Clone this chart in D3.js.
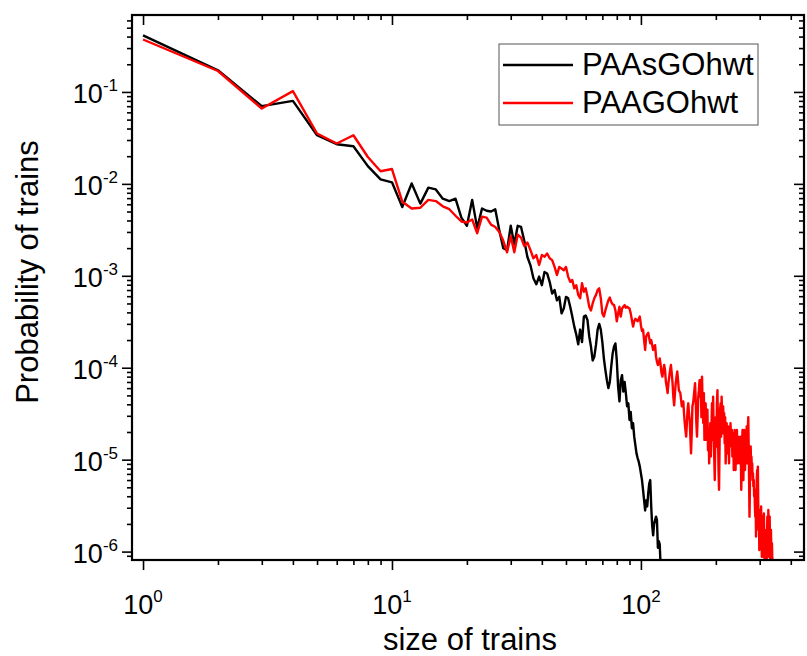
<!DOCTYPE html>
<html>
<head>
    <title>Probability of trains</title>
    <script src="https://d3js.org/d3.v7.min.js"></script>
    <style>
        body { margin: 0; background: #ffffff; }
        text { font-family: "Liberation Sans", Arial, sans-serif; fill: #000; }
    </style>
</head>
<body>
<div id="chart"></div>
<script>
// train sizes are 1, 2, 3, ... (index + 1)
// PAAsGOhwt, sizes 1..120
var blackProb = [
    0.413, 0.172, 0.070, 0.080, 0.0338, 0.0270, 0.0257, 0.0156, 0.0112, 0.0104,
    0.0056, 0.0101, 0.0061, 0.0091, 0.0087, 0.0069, 0.0065, 0.0069, 0.0043, 0.0035,
    0.0067, 0.0033, 0.0054, 0.0051, 0.0050, 0.0053, 0.0031, 0.0020, 0.0019, 0.0035,
    0.0022, 0.0035, 0.0034, 0.0024, 0.0016, 0.0013, 0.00094, 0.00081, 0.00098, 0.00079,
    0.00110, 0.00106, 0.00086, 0.00064, 0.00070, 0.00054, 0.00059, 0.00039, 0.00044, 0.00059,
    0.00057, 0.00046, 0.00036, 0.00028, 0.00023, 0.00018, 0.00026, 0.00019, 0.00036, 0.00037,
    0.00033, 0.00022, 0.00017, 0.00012, 0.000132, 0.000177, 0.00026, 0.00030, 0.00026, 0.00019,
    0.000126, 0.000094, 0.000073, 0.000060, 0.000070, 0.000103, 0.000143, 0.00017, 0.000184, 0.00012,
    0.000062, 0.000043, 0.000073, 0.000083, 0.000055, 0.000070, 0.000053, 0.000038, 0.000041, 0.000027,
    0.000033, 0.000022, 0.000025, 1.78e-5, 1.44e-5, 1.17e-5, 1.04e-5, 9.5e-6, 8.4e-6, 7.1e-6,
    6.0e-6, 4.7e-6, 3.6e-6, 2.8e-6, 3.6e-6, 3.1e-6, 4.3e-6, 5.5e-6, 6.0e-6, 3.1e-6,
    1.9e-6, 1.5e-6, 2.0e-6, 2.2e-6, 2.4e-6, 2.2e-6, 1.1e-6, 1.3e-6, 1.2e-6, 6.9e-7
];

// PAAGOhwt, sizes 1..339
var redProb = [
    0.372, 0.169, 0.066, 0.102, 0.0353, 0.0275, 0.0338, 0.0196, 0.0137, 0.0145,
    0.0064, 0.0054, 0.0055, 0.0067, 0.0065, 0.0057, 0.0053, 0.0045, 0.0039, 0.0038,
    0.0041, 0.0029, 0.0044, 0.0043, 0.0036, 0.0034, 0.0030, 0.0024, 0.0018, 0.0027,
    0.0018, 0.0028, 0.0026, 0.0021, 0.0023, 0.0019, 0.00155, 0.00168, 0.00131, 0.00168,
    0.00161, 0.00175, 0.00155, 0.00148, 0.00125, 0.00102, 0.00125, 0.00120, 0.00115, 0.00125,
    0.00098, 0.00086, 0.00090, 0.00073, 0.00079, 0.00062, 0.00057, 0.00083, 0.00067, 0.00073,
    0.00059, 0.00046, 0.00042, 0.00050, 0.00057, 0.00062, 0.00070, 0.00073, 0.00057, 0.00039,
    0.00036, 0.00042, 0.00048, 0.00054, 0.00058, 0.00052, 0.00049, 0.00048, 0.00042, 0.00032,
    0.00039, 0.00046, 0.00036, 0.00044, 0.00046, 0.00048, 4.5e-4, 4.6e-4, 4.5e-4, 4.4e-4,
    3.9e-4, 3.3e-4, 2.8e-4, 3.2e-4, 3.4e-4, 3.3e-4, 3.2e-4, 3.4e-4, 3.6e-4, 2.9e-4,
    2.5e-4, 2.6e-4, 2.0e-4, 1.56e-4, 2.2e-4, 2.3e-4, 2.4e-4, 2.1e-4, 1.84e-4, 2.0e-4,
    1.76e-4, 1.56e-4, 1.69e-4, 1.76e-4, 1.32e-4, 1.16e-4, 1.07e-4, 1.11e-4, 1.26e-4, 1.07e-4,
    8.7e-5, 8.0e-5, 9.4e-5, 1.07e-4, 9.4e-5, 7.0e-5, 6.2e-5, 5.3e-5, 6.8e-5, 8.0e-5,
    9.4e-5, 1.07e-4, 8.7e-5, 6.8e-5, 4.8e-5, 3.9e-5, 5.3e-5, 6.8e-5, 8.0e-5, 9.1e-5,
    7.3e-5, 5.7e-5, 5.5e-5, 5.3e-5, 4.5e-5, 3.8e-5, 4.1e-5, 4.3e-5, 3.2e-5, 2.5e-5,
    2.1e-5, 1.78e-5, 2.5e-5, 3.5e-5, 4.1e-5, 3.2e-5, 2.7e-5, 1.78e-5, 1.17e-5, 1.93e-5,
    3.8e-5, 4.1e-5, 4.8e-5, 5.7e-5, 6.8e-5, 4.5e-5, 2.5e-5, 1.78e-5, 2.9e-5, 4.8e-5,
    5.7e-5, 7.3e-5, 4.85e-5, 7.35e-5, 2.9e-5, 8.0e-5, 3.8e-5, 2.5e-5, 5.3e-5, 1.64e-5,
    3.2e-5, 4.1e-5, 1.64e-5, 2.5e-5, 3.5e-5, 1.27e-5, 2.1e-5, 9.1e-6, 1.64e-5, 2.5e-5,
    1.08e-5, 2.1e-5, 4.1e-5, 1.64e-5, 4.85e-5, 2.1e-5, 1.08e-5, 6.0e-6, 1.64e-5, 2.9e-5,
    1.39e-5, 4.1e-5, 5.7e-5, 2.1e-5, 7.7e-6, 4.7e-6, 1.39e-5, 3.5e-5, 4.1e-5, 1.78e-5,
    4.85e-5, 2.9e-5, 1.94e-5, 3.8e-5, 2.1e-5, 3.2e-5, 1.51e-5, 2.9e-5, 9.1e-6, 1.78e-5,
    2.5e-5, 1.17e-5, 1.94e-5, 2.3e-5, 1.39e-5, 9.1e-6, 1.94e-5, 1.39e-5, 2.5e-5, 1.78e-5,
    1.39e-5, 2.1e-5, 1.08e-5, 1.64e-5, 1.94e-5, 7.7e-6, 1.27e-5, 2.1e-5, 1.27e-5, 7.7e-6,
    1.64e-5, 1.08e-5, 2.1e-5, 1.39e-5, 9.1e-6, 1.78e-5, 9.9e-6, 1.08e-5, 1.64e-5, 9.1e-6,
    1.78e-5, 1.17e-5, 4.7e-6, 9.1e-6, 1.64e-5, 2.1e-5, 1.08e-5, 6.0e-6, 1.51e-5, 2.1e-5,
    9.9e-6, 7.7e-6, 1.39e-5, 1.64e-5, 1.17e-5, 2.3e-5, 9.1e-6, 1.64e-5, 2.3e-5, 2.9e-5,
    1.39e-5, 6.0e-6, 2.4e-6, 4.7e-6, 1.08e-5, 1.39e-5, 9.1e-6, 1.08e-5, 7.7e-6, 9.1e-6,
    6.0e-6, 7.1e-6, 5.1e-6, 6.0e-6, 4.0e-6, 4.7e-6, 3.1e-6, 2.4e-6, 4.0e-6, 1.46e-6,
    2.84e-6, 6.0e-6, 7.7e-6, 4.7e-6, 8.4e-6, 3.4e-6, 1.72e-6, 2.4e-6, 1.04e-6, 1.72e-6,
    2.84e-6, 1.46e-6, 2.4e-6, 3.1e-6, 1.72e-6, 8.8e-7, 1.23e-6, 2.4e-6, 1.72e-6, 8.8e-7,
    1.46e-6, 2.6e-6, 1.46e-6, 8.1e-7, 1.72e-6, 1.23e-6, 8.1e-7, 1.46e-6, 8.8e-7, 7.5e-7,
    1.46e-6, 2.4e-6, 1.72e-6, 1.04e-6, 2.84e-6, 1.72e-6, 8.8e-7, 1.46e-6, 2.4e-6, 1.23e-6,
    8.1e-7, 1.46e-6, 1.72e-6, 1.04e-6, 8.1e-7, 1.23e-6, 8.8e-7, 7.5e-7, 6.3e-7
];

var seriesNames = ["PAAsGOhwt", "PAAGOhwt"];
var seriesColors = ["#000000", "#ff0000"];

// tick values
var xMajor = [1, 10, 100];
var xMinor = [2, 3, 4, 5, 6, 7, 8, 9, 20, 30, 40, 50, 60, 70, 80, 90, 200, 300, 400];
var xExp = ["0", "1", "2"];
var yMajor = [1e-6, 1e-5, 1e-4, 1e-3, 1e-2, 1e-1];
var yExp = ["-6", "-5", "-4", "-3", "-2", "-1"];

var width = 807, height = 656;
var plotL = 132, plotT = 15, plotR = 804, plotB = 560;

var svg = d3.select("#chart").append("svg")
    .attr("width", width)
    .attr("height", height);

var x = d3.scaleLog().domain([0.903, 452]).range([plotL, plotR]);
var y = d3.scaleLog().domain([8.1e-7, 0.687]).range([plotB, plotT]);

// minor y ticks: 2..9 in each decade
var yMinor = [];
[1e-7, 1e-6, 1e-5, 1e-4, 1e-3, 1e-2, 1e-1].forEach(function(d) {
    for (var k = 2; k <= 9; k++) {
        var v = d * k;
        if (v > y.domain()[0] && v < y.domain()[1]) yMinor.push(v);
    }
});

function drawAxis(axis, tx, ty) {
    var g = svg.append("g").attr("transform", "translate(" + tx + "," + ty + ")").call(axis);
    g.select(".domain").remove();
    g.selectAll("line").attr("stroke", "#000").attr("stroke-width", 1.6);
    g.selectAll("text").remove();
}

// bottom (outward)
drawAxis(d3.axisBottom(x).tickValues(xMajor).tickSize(10), 0, plotB);
drawAxis(d3.axisBottom(x).tickValues(xMinor).tickSize(5), 0, plotB);
// top (inward)
drawAxis(d3.axisTop(x).tickValues(xMajor).tickSize(-10), 0, plotT);
drawAxis(d3.axisTop(x).tickValues(xMinor).tickSize(-5), 0, plotT);
// left (outward)
drawAxis(d3.axisLeft(y).tickValues(yMajor).tickSize(10), plotL, 0);
drawAxis(d3.axisLeft(y).tickValues(yMinor).tickSize(5), plotL, 0);
// right (inward)
drawAxis(d3.axisRight(y).tickValues(yMajor).tickSize(-10), plotR, 0);
drawAxis(d3.axisRight(y).tickValues(yMinor).tickSize(-5), plotR, 0);

// clip for data
svg.append("clipPath").attr("id", "plot-clip")
    .append("rect")
    .attr("x", plotL).attr("y", plotT)
    .attr("width", plotR - plotL).attr("height", plotB - plotT);

var line = d3.line()
    .x(function(d, i) { return x(i + 1); })
    .y(function(d) { return y(d); });

[blackProb, redProb].forEach(function(data, i) {
    svg.append("path")
        .datum(data)
        .attr("clip-path", "url(#plot-clip)")
        .attr("fill", "none")
        .attr("stroke", seriesColors[i])
        .attr("stroke-width", 2.4)
        .attr("stroke-linejoin", "round")
        .attr("d", line);
});

// frame
svg.append("rect")
    .attr("x", plotL).attr("y", plotT)
    .attr("width", plotR - plotL).attr("height", plotB - plotT)
    .attr("fill", "none")
    .attr("stroke", "#000")
    .attr("stroke-width", 2.2);

// tick labels with superscripts
xMajor.forEach(function(v, i) {
    var t = svg.append("text")
        .attr("x", x(v))
        .attr("y", 614)
        .attr("text-anchor", "middle")
        .style("font-size", "27px");
    t.append("tspan").text("10");
    t.append("tspan").attr("dy", -12).style("font-size", "17px").text(xExp[i]);
});

yMajor.forEach(function(v, i) {
    var t = svg.append("text")
        .attr("x", 118)
        .attr("y", y(v) + 11)
        .attr("text-anchor", "end")
        .style("font-size", "27px");
    t.append("tspan").text("10");
    t.append("tspan").attr("dy", -12).style("font-size", "17px").text(yExp[i]);
});

// axis titles
svg.append("text")
    .attr("x", 470)
    .attr("y", 650)
    .attr("text-anchor", "middle")
    .style("font-size", "31px")
    .text("size of trains");

svg.append("text")
    .attr("transform", "translate(38,272) rotate(-90)")
    .attr("text-anchor", "middle")
    .style("font-size", "31px")
    .text("Probability of trains");

// legend
var legend = svg.append("g");
legend.append("rect")
    .attr("x", 499).attr("y", 44)
    .attr("width", 259).attr("height", 81)
    .attr("fill", "#fff")
    .attr("stroke", "#555")
    .attr("stroke-width", 1);

seriesNames.forEach(function(name, i) {
    var ly = 65 + i * 38;
    legend.append("line")
        .attr("x1", 503).attr("x2", 573)
        .attr("y1", ly).attr("y2", ly)
        .attr("stroke", seriesColors[i])
        .attr("stroke-width", 2.4);
    legend.append("text")
        .attr("x", 582)
        .attr("y", ly + 10)
        .style("font-size", "31px")
        .text(name);
});
</script>
</body>
</html>
